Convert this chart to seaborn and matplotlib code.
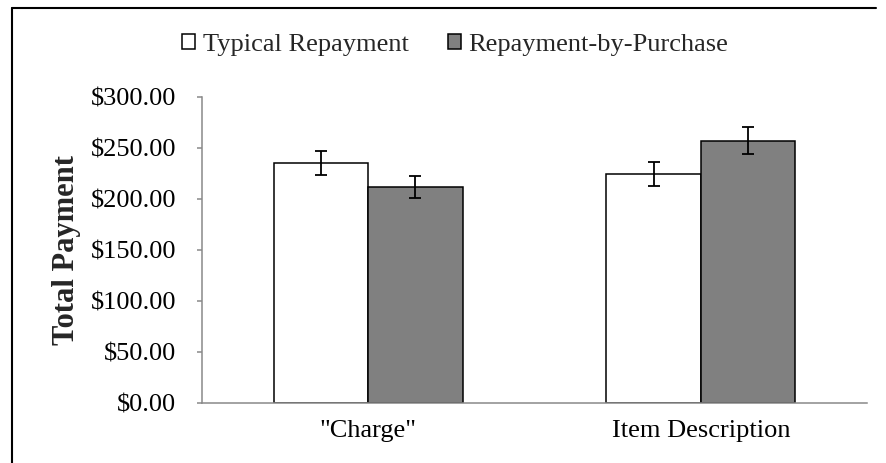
import pandas as pd
import matplotlib.pyplot as plt
import seaborn as sns
from matplotlib.lines import Line2D
from matplotlib.ticker import StrMethodFormatter

# Values
cues = ['"Charge"', "Item Description"]
conditions = ["Typical Repayment", "Repayment-by-Purchase"]
typical_mean = [235.9, 224.8]
purchase_mean = [212.4, 257.5]
typical_se = [11.8, 11.3]
purchase_se = [10.8, 13.1]

df = pd.DataFrame({
    "cue": cues * 2,
    "condition": [conditions[0]] * 2 + [conditions[1]] * 2,
    "payment": typical_mean + purchase_mean,
    "se": typical_se + purchase_se,
})

sns.set_style("white")
plt.rcParams["font.family"] = ["Liberation Serif", "DejaVu Serif"]

fig = plt.figure(figsize=(8.86, 4.63), dpi=100)
ax = fig.add_axes([0.2277, 0.1289, 0.7512, 0.6609])

sns.barplot(
    data=df,
    x="cue",
    y="payment",
    hue="condition",
    hue_order=conditions,
    palette=["white", "#808080"],
    edgecolor="black",
    linewidth=1.1,
    width=0.568,
    errorbar=None,
    legend=False,
    ax=ax,
)
bar_groups = list(ax.containers)

# Error bars placed on the centres of the drawn bars
for container, cond in zip(bar_groups, conditions):
    sub = df[df["condition"] == cond]
    xs = [p.get_x() + p.get_width() / 2 for p in container.patches]
    ax.errorbar(
        xs,
        sub["payment"].values,
        yerr=sub["se"].values,
        fmt="none",
        ecolor="black",
        elinewidth=1.3,
        capsize=4.3,
        capthick=1.3,
    )

ax.set_ylim(0, 300)
ax.set_xlim(-0.5, 1.5)
ax.set_yticks(range(0, 301, 50))
ax.yaxis.set_major_formatter(StrMethodFormatter("${x:,.2f}"))
ax.set_xlabel("")
ax.set_ylabel("Total Payment", fontsize=22, fontweight="bold")
ax.yaxis.set_label_coords(-0.181, 0.5)

for side in ["top", "right"]:
    ax.spines[side].set_visible(False)
for side in ["left", "bottom"]:
    ax.spines[side].set_color("#898989")
    ax.spines[side].set_linewidth(1.1)

ax.tick_params(axis="y", which="both", left=True, length=3.6, width=1.1,
               color="#898989", pad=15, labelsize=19, labelcolor="black")
ax.tick_params(axis="x", length=0, pad=12, labelsize=19, labelcolor="black")

handles = [c.patches[0] for c in bar_groups]
fig.legend(
    handles,
    conditions,
    loc="center",
    bbox_to_anchor=(0.514, 0.903),
    ncol=2,
    frameon=False,
    fontsize=19,
    handlelength=0.47,
    handleheight=0.47,
    handletextpad=0.3,
    columnspacing=1.5,
    borderaxespad=0,
)

# Outer chart border: only left and top edges show in the crop
x0, x1, ytop = 11.7 / 886, 876 / 886, 1 - 7.5 / 463
fig.lines.append(Line2D([x0, x0], [-0.05, ytop], transform=fig.transFigure,
                        color="black", linewidth=1.5))
fig.lines.append(Line2D([x0, x1], [ytop, ytop], transform=fig.transFigure,
                        color="black", linewidth=1.5))

fig.savefig("out.png", dpi=100)
